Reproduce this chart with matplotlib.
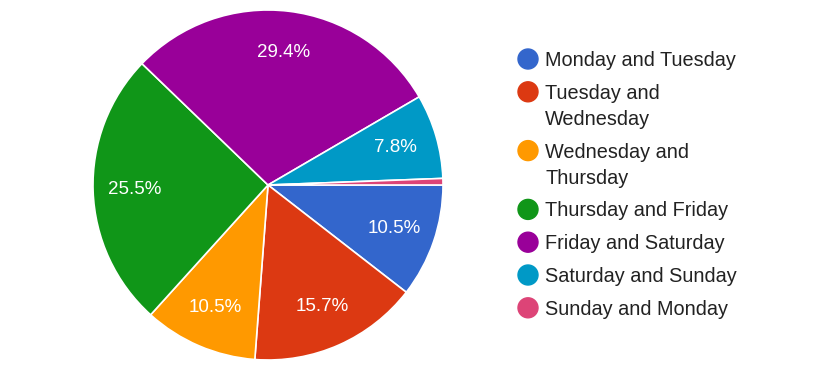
import matplotlib
matplotlib.use("Agg")
import matplotlib.pyplot as plt
from matplotlib.patches import Circle

labels = ["Monday and Tuesday", "Tuesday and Wednesday", "Wednesday and Thursday",
          "Thursday and Friday", "Friday and Saturday", "Saturday and Sunday",
          "Sunday and Monday"]
legend_lines = [["Monday and Tuesday"], ["Tuesday and", "Wednesday"],
                ["Wednesday and", "Thursday"], ["Thursday and Friday"],
                ["Friday and Saturday"], ["Saturday and Sunday"], ["Sunday and Monday"]]
values = [10.5, 15.7, 10.5, 25.5, 29.4, 7.8, 0.6]
colors = ["#3366cc", "#dc3912", "#ff9900", "#109618", "#990099", "#0099c6", "#dd4477"]

plt.rcParams['font.family'] = ['Liberation Sans', 'DejaVu Sans']

W, H = 835, 372
fig = plt.figure(figsize=(W / 100, H / 100), dpi=100)

cx, cy, r = 268, 185, 175
ax = fig.add_axes([(cx - r) / W, (H - cy - r) / H, 2 * r / W, 2 * r / H])
wedges, texts, autotexts = ax.pie(
    values, colors=colors, startangle=0, counterclock=False,
    autopct=lambda p: f"{p:.1f}%" if p >= 5 else "", pctdistance=0.76,
    wedgeprops=dict(edgecolor="white", linewidth=1.2),
    textprops=dict(color="white", fontsize=13.5))
ax.set_aspect("equal")
ax.set_xlim(-1, 1)
ax.set_ylim(-1, 1)
ax.axis("off")

# Legend
lax = fig.add_axes([0, 0, 1, 1])
lax.set_xlim(0, W)
lax.set_ylim(H, 0)
lax.axis("off")
y = 59
for lines, c in zip(legend_lines, colors):
    lax.add_patch(Circle((528, y), 10, color=c))
    for i, ln in enumerate(lines):
        lax.text(545, y + 1.5 + i * 26, ln, fontsize=14.3, color="#222222", va="center", ha="left")
    y += 26 * (len(lines) - 1) + 32.8

fig.savefig("out.png", dpi=100, facecolor="white")
